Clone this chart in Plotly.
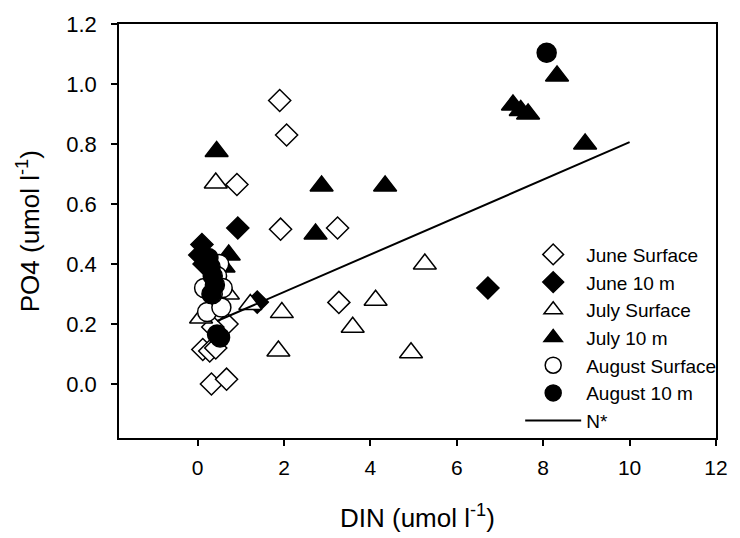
import plotly.graph_objects as go

# June Surface (open diamonds)
june_surf_x = [1.90, 2.06, 0.91, 1.92, 3.24, 3.27, 0.32, 0.67, 0.12, 0.28, 0.42, 0.68, 0.35]
june_surf_y = [0.945, 0.83, 0.665, 0.516, 0.52, 0.272, 0.0, 0.016, 0.115, 0.11, 0.12, 0.20, 0.19]
# June 10 m (filled diamonds)
june_10_x = [0.93, 0.10, 0.05, 0.15, 1.38, 6.72]
june_10_y = [0.52, 0.465, 0.43, 0.40, 0.273, 0.32]
# July Surface (open triangles)
july_surf_x = [0.42, 5.26, 4.12, 3.59, 1.95, 1.87, 4.94, 1.22, 0.70, 0.08, 0.45]
july_surf_y = [0.67, 0.40, 0.279, 0.189, 0.238, 0.11, 0.104, 0.265, 0.30, 0.22, 0.28]
# July 10 m (filled triangles)
july_10_x = [0.44, 2.87, 4.34, 2.73, 8.32, 7.30, 7.48, 7.65, 8.97, 0.72, 0.60]
july_10_y = [0.775, 0.66, 0.66, 0.50, 1.027, 0.93, 0.912, 0.90, 0.80, 0.43, 0.39]
# August Surface (open circles)
aug_surf_x = [0.50, 0.45, 0.15, 0.58, 0.22, 0.55, 0.35]
aug_surf_y = [0.40, 0.36, 0.32, 0.32, 0.24, 0.255, 0.30]
# August 10 m (filled circles)
aug_10_x = [8.08, 0.30, 0.35, 0.40, 0.32, 0.45, 0.52, 0.25]
aug_10_y = [1.104, 0.39, 0.36, 0.33, 0.30, 0.165, 0.155, 0.42]
# N* line
nstar_x = [0.45, 10.0]
nstar_y = [0.21, 0.806]

x_ticks = [0, 2, 4, 6, 8, 10, 12]
y_ticks = [0.0, 0.2, 0.4, 0.6, 0.8, 1.0, 1.2]

FONT = "Liberation Sans, Arial, sans-serif"

series = [
    ("June Surface", june_surf_x, june_surf_y, "diamond", "white", 17),
    ("June 10 m", june_10_x, june_10_y, "diamond", "black", 17),
    ("July Surface", july_surf_x, july_surf_y, "triangle-up", "white", 20),
    ("July 10 m", july_10_x, july_10_y, "triangle-up", "black", 20),
    ("August Surface", aug_surf_x, aug_surf_y, "circle", "white", 19),
    ("August 10 m", aug_10_x, aug_10_y, "circle", "black", 19),
]

fig = go.Figure()
for name, xs, ys, sym, fill, size in series:
    fig.add_trace(go.Scatter(
        x=xs, y=ys, mode="markers", name=name,
        marker=dict(symbol=sym, size=size, color=fill,
                    line=dict(color="black", width=1.5)),
    ))
fig.add_trace(go.Scatter(x=nstar_x, y=nstar_y, mode="lines", name="N*",
                         line=dict(color="black", width=2)))

axis_common = dict(
    showline=True, linecolor="black", linewidth=1.5, mirror=True,
    ticks="outside", ticklen=6, tickwidth=1.5, tickcolor="black",
    showgrid=False, zeroline=False,
)

fig.update_layout(
    width=740, height=538,
    margin=dict(l=119, r=15, t=20, b=100),
    paper_bgcolor="white", plot_bgcolor="white",
    font=dict(family=FONT, color="black"),
    xaxis=dict(range=[-1.82, 12], tickvals=x_ticks, ticklabelstandoff=4,
               tickfont=dict(family=FONT, size=21, color="black"), **axis_common),
    yaxis=dict(range=[-0.18, 1.2], tickvals=y_ticks, tickformat=".1f",
               ticklabelstandoff=10,
               tickfont=dict(family=FONT, size=22, color="black"), **axis_common),
    legend=dict(x=0.672, y=0.489, xanchor="left", yanchor="top",
                bgcolor="rgba(0,0,0,0)", borderwidth=0,
                font=dict(family=FONT, size=19, color="black"),
                itemwidth=56, tracegroupgap=0),
    showlegend=True,
    annotations=[
        dict(text="DIN (umol l<sup>-1</sup>)", xref="paper", yref="paper",
             x=0.5, y=-0.235, xanchor="center", yanchor="bottom", showarrow=False,
             font=dict(family=FONT, size=26, color="black")),
        dict(text="PO4 (umol l<sup>-1</sup>)", xref="paper", yref="paper",
             x=-0.152, y=0.5, xanchor="center", yanchor="middle", textangle=-90,
             showarrow=False, font=dict(family=FONT, size=26, color="black")),
    ],
)

fig.write_html("out.html", config={"displayModeBar": False},
               post_script="document.body.style.margin='0px';")
